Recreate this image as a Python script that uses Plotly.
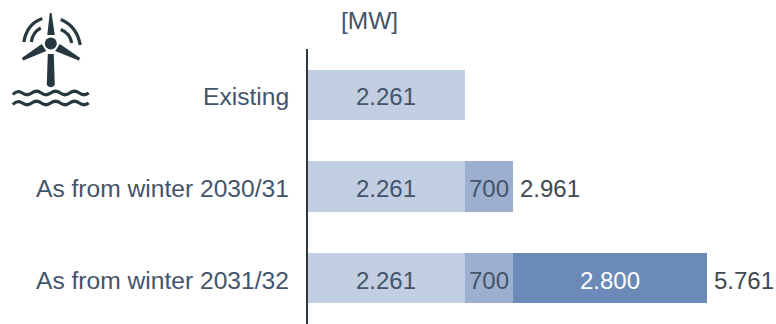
import plotly.graph_objects as go

categories = ["Existing", "As from winter 2030/31", "As from winter 2031/32"]
existing = [2261, 2261, 2261]
step_2030 = [None, 700, 700]
step_2031 = [None, None, 2800]
totals = [None, 2961, 5761]

WIDTH, HEIGHT = 776, 324
LEFT, TOP, BOTTOM = 307.5, 49, 0
AXIS_MAX = 6750
TEXT_DARK = "#44546a"
ICON = "#26373f"
FONT = "Liberation Sans, Arial, sans-serif"
LABEL_DROP = -2  # labels sit a little below the bar centre


def px(x):
    return (x - LEFT) / (WIDTH - LEFT)


def py(y):
    return 1 - (y - TOP) / (HEIGHT - TOP - BOTTOM)


def path(commands):
    """Turn (letter, x, y, ...) tuples in page pixels into a paper-space SVG path."""
    parts = []
    for cmd in commands:
        letter, coords = cmd[0], cmd[1:]
        converted = []
        for i in range(0, len(coords), 2):
            converted.append(f"{px(coords[i]):.5f},{py(coords[i + 1]):.5f}")
        parts.append(letter + " ".join(converted))
    return " ".join(parts)


def icon_fill(commands):
    return dict(type="path", xref="paper", yref="paper", path=path(commands) + " Z",
                fillcolor=ICON, line=dict(width=0), layer="above")


def icon_stroke(commands, width):
    return dict(type="path", xref="paper", yref="paper", path=path(commands),
                line=dict(color=ICON, width=width), layer="above")


def wave(mid):
    """One wavy line across the foot of the turbine."""
    half = 9.5
    commands = [("M", 12, mid + 1.5), ("Q", 12 + half / 2, mid - 3.5, 12 + half, mid)]
    for i in range(2, 9):
        commands.append(("T", 12 + half * i, mid))
    return icon_stroke(commands, 3.2)


def dotted(value):
    return f"{value:,.0f}".replace(",", ".")


shapes = [
    # blades and tower
    icon_fill([("M", 46.5, 35), ("L", 49, 13), ("L", 50.8, 13), ("L", 54, 35)]),
    icon_fill([("M", 41, 44), ("L", 21, 58), ("L", 22.5, 60.5), ("L", 45.5, 51)]),
    icon_fill([("M", 59, 44), ("L", 79.5, 58), ("L", 78, 60.5), ("L", 54.5, 51)]),
    icon_fill([("M", 47, 54), ("L", 46, 85), ("Q", 50, 89.5, 54, 85), ("L", 53, 54)]),
    # hub
    dict(type="circle", xref="paper", yref="paper",
         x0=px(44), x1=px(56), y0=py(49.5), y1=py(37.5),
         fillcolor=ICON, line=dict(width=0), layer="above"),
    # signal arcs
    icon_stroke([("M", 41.5, 18.5), ("Q", 26, 24, 23, 42)], 3.2),
    icon_stroke([("M", 40, 28), ("Q", 32, 32, 30.5, 42)], 3.2),
    icon_stroke([("M", 60, 19.5), ("Q", 76, 26, 79.5, 45)], 3.2),
    icon_stroke([("M", 60, 29.5), ("Q", 69, 33, 71, 43)], 3.2),
    # waves
    wave(93),
    wave(103),
]


def segment(values, colour):
    return go.Bar(
        y=categories, x=values, orientation="h", marker=dict(color=colour, line=dict(width=0)),
        showlegend=False, hoverinfo="skip",
    )


fig = go.Figure([
    segment(existing, "#c2cee1"),
    segment(step_2030, "#9dafce"),
    segment(step_2031, "#6c8ab8"),
])

annotations = []

# Segment values, centred in each stacked piece.
for row, category in enumerate(categories):
    base = 0
    for values, colour in ((existing, TEXT_DARK), (step_2030, TEXT_DARK), (step_2031, "#ffffff")):
        value = values[row]
        if value is None:
            continue
        annotations.append(dict(
            text=dotted(value), x=base + value / 2, y=category, xref="x", yref="y",
            xanchor="center", yanchor="middle", yshift=LABEL_DROP, showarrow=False,
            font=dict(color=colour, size=24, family=FONT),
        ))
        base += value

    # Category name to the left of the axis.
    annotations.append(dict(
        text=category, x=px(290.5), y=category, xref="paper", yref="y",
        xanchor="right", yanchor="middle", yshift=LABEL_DROP, showarrow=False,
        font=dict(color=TEXT_DARK, size=24.6, family=FONT),
    ))

    # Stack total just past the bar end.
    if totals[row] is not None:
        annotations.append(dict(
            text=dotted(totals[row]), x=totals[row], y=category, xref="x", yref="y",
            xanchor="left", yanchor="middle", xshift=5, yshift=LABEL_DROP, showarrow=False,
            font=dict(color="#3f4a50", size=24, family=FONT),
        ))

annotations.append(dict(
    text="[MW]", xref="paper", yref="paper", x=px(369), y=py(20.5),
    xanchor="center", yanchor="middle", showarrow=False,
    font=dict(size=24.5, color=TEXT_DARK, family=FONT),
))

fig.update_layout(
    width=WIDTH, height=HEIGHT, barmode="stack", bargap=0.45,
    margin=dict(l=LEFT, r=0, t=TOP, b=BOTTOM, pad=0),
    paper_bgcolor="white", plot_bgcolor="white",
    font=dict(family=FONT),
    shapes=shapes,
    annotations=annotations,
)
fig.update_xaxes(range=[0, AXIS_MAX], visible=False)
fig.update_yaxes(
    categoryorder="array", categoryarray=categories, autorange="reversed",
    showgrid=False, ticks="", showticklabels=False,
    showline=True, linecolor="#2f3a40", linewidth=2,
)

fig.write_html("out.html", config=dict(displayModeBar=False))
